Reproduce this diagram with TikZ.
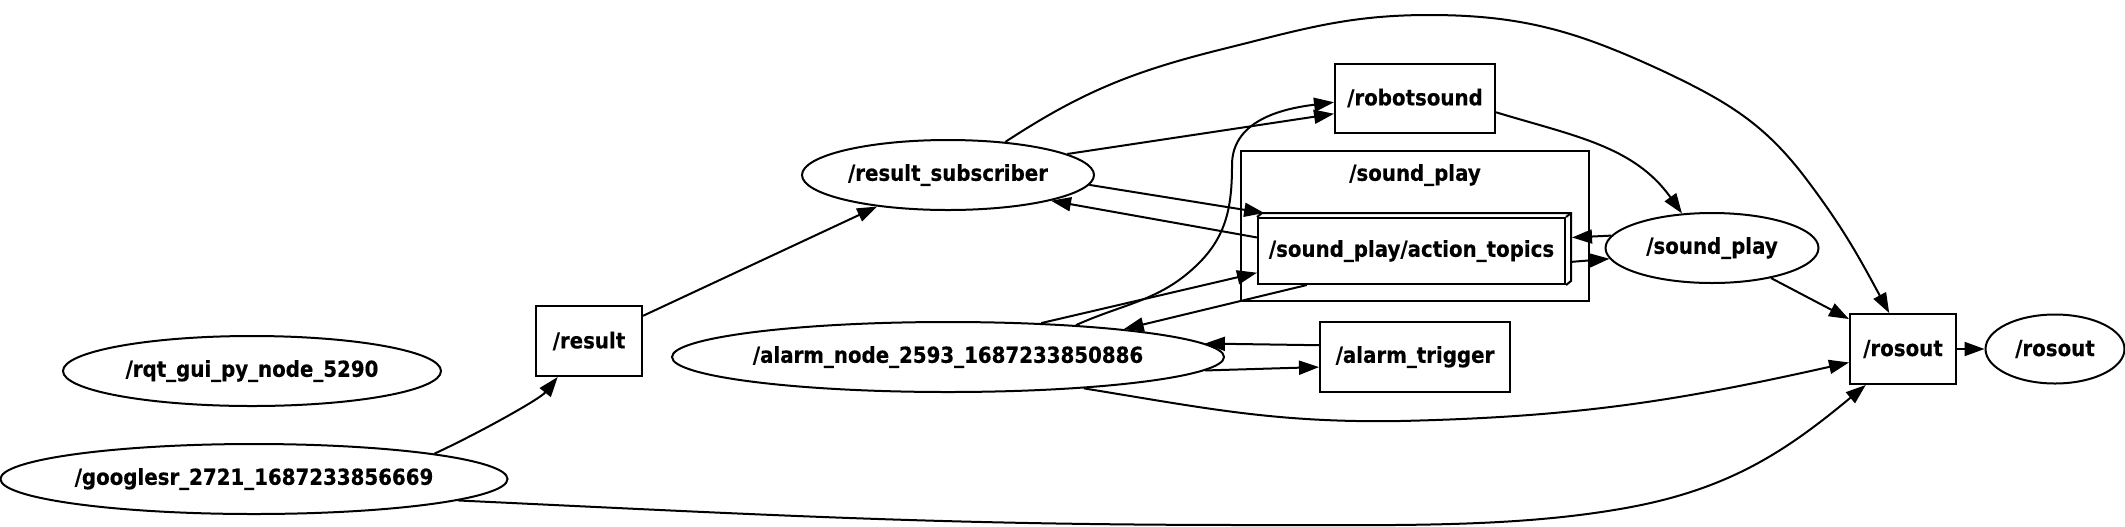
\documentclass[tikz,border=0pt]{standalone}
\usepackage{fontspec}
\setmainfont{DejaVu Sans}[FakeStretch=0.9, BoldFeatures={FakeBold=0.4}]
\usetikzlibrary{shapes.geometric,arrows.meta}
\begin{document}
\begin{tikzpicture}[x=0.5pt,y=-0.5pt,
  every node/.style={font=\fontsize{11pt}{13pt}\selectfont\bfseries},
  box/.style={draw, rectangle, line width=1pt, inner sep=0pt},
  ell/.style={draw, ellipse, line width=1pt, inner sep=0pt},
  clusterbox/.style={draw, rectangle, line width=1pt, inner sep=0pt},
  edge/.style={line width=1pt, -{Triangle[length=10pt,width=7pt]}}]
\useasboundingbox (0,0) rectangle (2125,526);

% nodes
\node[box, minimum width=80pt, minimum height=34.5pt] (rs) at (1415,98) {/robotsound};
\node[clusterbox, minimum width=174pt, minimum height=75pt] (cl) at (1415,226) {};
\node (cllabel) at (1415,175) {/sound\_play};
\node[box, minimum width=153.5pt, minimum height=33pt] (at) at (1411.5,251) {/sound\_play/action\_topics};
\draw[line width=1pt] (at.north west) -- ++(5,-4) -- ([shift={(5,-4)}]at.north east) -- ([shift={(5,-4)}]at.south east) -- (at.south east);
\draw[line width=1pt] (at.north east) -- ++(5,-4);
\node[ell, minimum width=106.5pt, minimum height=35pt] (sp) at (1712,248) {/sound\_play};
\node[box, minimum width=53pt, minimum height=35pt] (ro) at (1903,349) {/rosout};
\node[ell, minimum width=69.5pt, minimum height=34.5pt] (roe) at (2055,349) {/rosout};
\node[ell, minimum width=146pt, minimum height=35pt] (rsub) at (948,175) {/result\_subscriber};
\node[box, minimum width=53pt, minimum height=35pt] (res) at (589,341) {/result};
\node[ell, minimum width=189pt, minimum height=35pt] (rqt) at (252,371) {/rqt\_gui\_py\_node\_5290};
\node[ell, minimum width=252pt, minimum height=35pt] (gsr) at (254,479) {/googlesr\_2721\_1687233856669};
\node[ell, minimum width=276pt, minimum height=35pt] (an) at (948,357) {/alarm\_node\_2593\_1687233850886};
\node[box, minimum width=95pt, minimum height=35pt] (atr) at (1415,357) {/alarm\_trigger};

% edges
\draw[edge] (gsr.8) .. controls (479,433) and (540,399) .. (res.229);
\draw[edge] (res.25) -- (rsub.204);
\draw[edge] (rsub.10) -- (rs.191);
\draw[edge] (rsub.-4) -- ([yshift=2pt]at.167);
\draw[edge] (at.175) -- (rsub.-14);
\draw[edge] (rsub.30) .. controls (1080,93) and (1131,72) .. (1219,50)
  .. controls (1300,30) and (1346,15) .. (1429,15)
  .. controls (1524,15) and (1579,32) .. (1665,72)
  .. controls (1728,102) and (1765,124) .. (1807,180)
  .. controls (1844,229) and (1860,259) .. (ro.111);
\draw[edge] (rs.-10) .. controls (1574,136) and (1634,146) .. (sp.131);
\draw[edge] (an.14) .. controls (1125,303) and (1161,301) .. (1199,263)
  .. controls (1227,235) and (1232,205) .. (1232,165)
  .. controls (1232,118) and (1288,108) .. (rs.183);
\draw[edge] (an.20) -- (at.188);
\draw[edge] (at.198) -- (an.9);
\draw[edge] (atr.173) -- (an.3);
\draw[edge] (an.-3) -- (atr.186);
\draw[edge] (an.-13) .. controls (1205,408) and (1275,423) .. (1400,421)
  .. controls (1577,417) and (1677,401) .. (ro.194);
\draw[edge] (gsr.-6) .. controls (768,515) and (942,525) .. (1250,525)
  .. controls (1390,525) and (1510,528) .. (1620,509)
  .. controls (1726,491) and (1784,453) .. (ro.224);
\draw[edge] (sp.-27) -- (ro.151);
\draw[edge] (sp.173) -- ([xshift=3pt]at.5);
\draw[edge] ([xshift=3pt]at.-4) -- (sp.186);
\draw[edge] (ro) -- (roe);
\end{tikzpicture}
\end{document}
